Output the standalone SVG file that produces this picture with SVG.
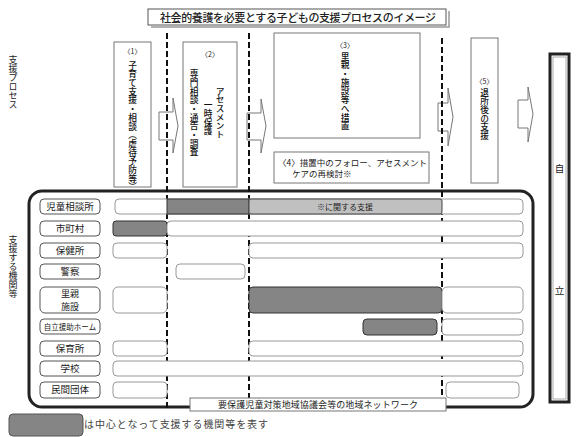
<svg xmlns="http://www.w3.org/2000/svg" width="582" height="437" viewBox="0 0 582 437">
<style>
text{font-family:"Noto Sans CJK JP","DejaVu Sans",sans-serif;fill:#222}
.v{writing-mode:vertical-rl}
.pbox{fill:#fff;stroke:#777;stroke-width:1}
.lbl{fill:#fff;stroke:#555;stroke-width:1}
.bar{fill:#fff;stroke:#999;stroke-width:1}
.dark{fill:#858585;stroke:#333;stroke-width:1}
.light{fill:#c0c0c0;stroke:#444;stroke-width:1}
.arrow{fill:#fff;stroke:#777;stroke-width:1}
.dash{stroke:#111;stroke-width:2;stroke-dasharray:6,3;fill:none}
.lt{font-size:9.5px;text-anchor:middle}
.pv{font-size:8.7px;font-weight:500;fill:#111}
</style>
<g id="title">
<path d="M449,11 L449,27 L151,27" fill="none" stroke="#999" stroke-width="1.5"/>
<rect x="148" y="9" width="298" height="16" fill="#fff" stroke="#555"/>
<text x="298" y="21.5" font-size="11" font-weight="500" text-anchor="middle" textLength="276">社会的養護を必要とする子どもの支援プロセスのイメージ</text>
</g>
<g id="side-labels">
<text class="v" x="13" y="55" font-size="9">支援プロセス</text>
<text class="v" x="13" y="235" font-size="9">支援する機関等</text>
</g>
<g id="frame">
<rect x="29" y="191" width="504" height="216" rx="13" fill="none" stroke="#222" stroke-width="3"/>
</g>
<g id="p1">
<rect class="pbox" x="114" y="42" width="37" height="145"/>
<text x="132.5" y="54" font-size="7" text-anchor="middle">〈1〉</text>
<text class="v pv" x="132.5" y="61">子育て支援・相談（虐待予防等）</text>
</g>
<g id="p2">
<rect class="pbox" x="183" y="42" width="54" height="145"/>
<text x="210" y="57" font-size="7" text-anchor="middle">〈2〉</text>
<text class="v pv" x="220" y="113" text-anchor="middle">アセスメント</text>
<text class="v pv" x="208" y="118" text-anchor="middle">一時保護</text>
<text class="v pv" x="194" y="113" text-anchor="middle">専門相談・通告・調査</text>
</g>
<g id="p3">
<rect class="pbox" x="274" y="33" width="146" height="105"/>
<text x="345" y="48" font-size="7" text-anchor="middle">〈3〉</text>
<text class="v pv" x="345" y="52">里親・施設等へ措置</text>
</g>
<g id="p4">
<rect class="pbox" x="274" y="152" width="155" height="31"/>
<text x="278" y="166" font-size="8.5">〈4〉措置中のフォロー、アセスメント</text>
<text x="292" y="177" font-size="8.5">ケアの再検討※</text>
</g>
<g id="p5">
<rect class="pbox" x="471" y="38" width="27" height="145"/>
<text x="484.5" y="84" font-size="7" text-anchor="middle">〈5〉</text>
<text class="v pv" x="484.5" y="88">退所後の支援</text>
</g>
<g id="jiritsu">
<rect x="550" y="54" width="19" height="348" fill="#fff" stroke="#222" stroke-width="3"/>
<rect x="553" y="57" width="13" height="342" fill="none" stroke="#aaa" stroke-width="1"/>
<text x="559.5" y="172" font-size="9.5" text-anchor="middle">自</text>
<text x="559.5" y="294" font-size="9.5" text-anchor="middle">立</text>
</g>
<g id="connectors">
<path class="arrow" d="M159,112 H173 V98 L178,126 L173,153 V140 H159 Z"/>
<path class="arrow" d="M247,113 H261 V99 L266,126 L261,153 V140 H247 Z"/>
<path class="arrow" d="M438,103 H448 V88 L453,117 L448,146 V131 H438 Z"/>
<path class="arrow" d="M518,100 H528 V87 L533,114 L528,142 V128 H518 Z"/>
<line class="dash" x1="167" y1="33" x2="167" y2="408"/>
<line class="dash" x1="249" y1="33" x2="249" y2="398"/>
<line class="dash" x1="442" y1="38" x2="442" y2="398"/>
</g>
<g id="row-jidou">
<rect class="lbl" x="40" y="199" width="60" height="15" rx="4"/>
<text class="lt" x="70" y="210">児童相談所</text>
<rect class="bar" x="115" y="199" width="408" height="15" rx="4"/>
<rect class="dark" x="167" y="199" width="82" height="15"/>
<rect class="light" x="249" y="199" width="193" height="15" rx="2"/>
<text x="345" y="210" font-size="8" text-anchor="middle">※に関する支援</text>
</g>
<g id="row-shichoson">
<rect class="lbl" x="40" y="221" width="60" height="15" rx="4"/>
<text class="lt" x="70" y="232">市町村</text>
<rect class="dark" x="113" y="221" width="54" height="15" rx="3"/>
<rect class="bar" x="167" y="221" width="356" height="15" rx="4"/>
</g>
<g id="row-hokenjo">
<rect class="lbl" x="40" y="243" width="60" height="15" rx="4"/>
<text class="lt" x="70" y="254">保健所</text>
<rect class="bar" x="113" y="243" width="54" height="15" rx="4"/>
<rect class="bar" x="249" y="243" width="274" height="15" rx="4"/>
</g>
<g id="row-keisatsu">
<rect class="lbl" x="40" y="264" width="60" height="15" rx="4"/>
<text class="lt" x="70" y="275">警察</text>
<rect class="bar" x="176" y="264" width="69" height="15" rx="4"/>
</g>
<g id="row-satooya">
<rect class="lbl" x="40" y="287" width="60" height="26" rx="5"/>
<text x="70" y="297" font-size="9" text-anchor="middle">里親</text>
<text x="70" y="309.5" font-size="9" text-anchor="middle">施設</text>
<rect class="bar" x="113" y="287" width="54" height="26" rx="5"/>
<rect class="dark" x="249" y="287" width="193" height="26" rx="4"/>
<rect class="bar" x="442" y="287" width="81" height="26" rx="5"/>
</g>
<g id="row-jiritsu-home">
<rect class="lbl" x="40" y="319" width="60" height="15" rx="4"/>
<text x="70" y="330" font-size="7.5" text-anchor="middle">自立援助ホーム</text>
<rect class="dark" x="363" y="319" width="74" height="16" rx="4"/>
<rect class="bar" x="442" y="319" width="81" height="16" rx="4"/>
</g>
<g id="row-hoikujo">
<rect class="lbl" x="40" y="341" width="60" height="15" rx="4"/>
<text class="lt" x="70" y="352">保育所</text>
<rect class="bar" x="113" y="341" width="54" height="15" rx="4"/>
<rect class="bar" x="249" y="341" width="274" height="15" rx="4"/>
</g>
<g id="row-gakko">
<rect class="lbl" x="40" y="361" width="60" height="15" rx="4"/>
<text class="lt" x="70" y="372">学校</text>
<rect class="bar" x="113" y="361" width="410" height="15" rx="4"/>
</g>
<g id="row-minkan">
<rect class="lbl" x="40" y="382" width="60" height="16" rx="4"/>
<text class="lt" x="70" y="393">民間団体</text>
<rect class="bar" x="113" y="382" width="54" height="16" rx="4"/>
<rect class="bar" x="446" y="382" width="73" height="16" rx="4"/>
</g>
<g id="network">
<rect x="190" y="398" width="256" height="13" fill="#fff" stroke="#777"/>
<text x="318" y="408" font-size="9" text-anchor="middle" textLength="200">要保護児童対策地域協議会等の地域ネットワーク</text>
</g>
<g id="legend">
<rect x="9" y="414" width="74" height="22" rx="4" fill="#858585" stroke="#555"/>
<text x="84" y="428" font-size="10" textLength="184" style="fill:#444">は中心となって支援する機関等を表す</text>
</g>
</svg>
